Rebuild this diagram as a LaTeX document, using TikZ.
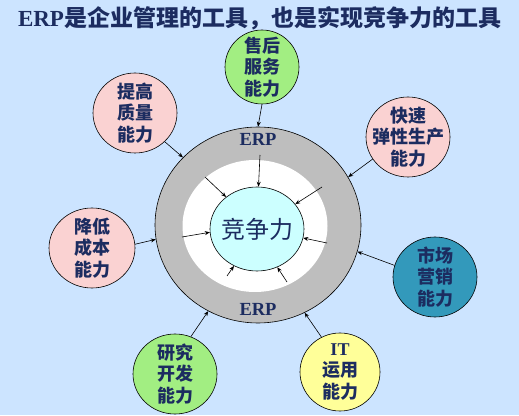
\documentclass[tikz,border=0pt]{standalone}
\usepackage{fontspec}
\setmainfont{Liberation Serif}
\newfontfamily\cjk{Noto Sans CJK SC}
\usetikzlibrary{arrows.meta,shapes.geometric}
\definecolor{bgcol}{RGB}{204,228,255}
\definecolor{navycol}{RGB}{28,44,96}
\definecolor{pinkcol}{RGB}{250,210,210}
\definecolor{greencol}{RGB}{162,238,130}
\definecolor{tealcol}{RGB}{51,153,187}
\definecolor{yellowcol}{RGB}{255,255,153}
\definecolor{ringcol}{RGB}{190,190,190}
\definecolor{corecol}{RGB}{204,255,255}

\begin{document}
\begin{tikzpicture}[x=1pt,y=1pt,
   skill/.style={ellipse,draw=black,line width=0.6pt,inner sep=0pt},
   skilltxt/.style={align=center,inner sep=0pt,text=navycol,
      font=\cjk\bfseries\fontsize{18}{21.5}\selectfont},
   erp/.style={text=navycol,font=\bfseries\fontsize{18.5}{18.5}\selectfont},
   arr/.style={-{Stealth[length=5pt,width=4pt]},line width=0.6pt}]
  % ---------- background and title ----------
  \fill[bgcol] (0,0) rectangle (519,415);
  \useasboundingbox (0,0) rectangle (519,415);
  \node[text=navycol,font=\fontsize{23}{23}\selectfont] (title) at (259.5,397)
    {\textbf{ERP}{\cjk\bfseries 是企业管理的工具，也是实现竞争力的工具}};
  % ---------- central rings ----------
  \node[skill,fill=ringcol,minimum width=206,minimum height=196] (ring) at (258,190) {};
  \node[skill,draw=none,fill=white,minimum width=145,minimum height=132] (white) at (255,189) {};
  \node[skill,fill=corecol,minimum width=94,minimum height=84] (core) at (257,186) {};
  \node[text=navycol,font=\cjk\fontsize{24}{24}\selectfont] (core-t) at (257,186) {竞争力};
  \node[erp] (erp-top) at (258,276) {ERP};
  \node[erp] (erp-bot) at (258,106) {ERP};
  % ---------- surrounding abilities ----------
  \node[skill,fill=greencol,minimum width=74,minimum height=74] (shouhou) at (262,348) {};
  \node[skilltxt] (shouhou-t) at (shouhou) {售后\\服务\\能力};
  \node[skill,fill=pinkcol,minimum width=84,minimum height=80] (tigao) at (135,302) {};
  \node[skilltxt] (tigao-t) at (tigao) {提高\\质量\\能力};
  \node[skill,fill=pinkcol,minimum width=84,minimum height=80] (kuaisu) at (408,278) {};
  \node[skilltxt] (kuaisu-t) at (kuaisu) {快速\\弹性生产\\能力};
  \node[skill,fill=pinkcol,minimum width=86,minimum height=80] (jiangdi) at (92,167) {};
  \node[skilltxt] (jiangdi-t) at (jiangdi) {降低\\成本\\能力};
  \node[skill,fill=tealcol,minimum width=84,minimum height=80] (shichang) at (435,138) {};
  \node[skilltxt] (shichang-t) at (shichang) {市场\\营销\\能力};
  \node[skill,fill=greencol,minimum width=84,minimum height=80] (yanjiu) at (175,41) {};
  \node[skilltxt] (yanjiu-t) at (yanjiu) {研究\\开发\\能力};
  \node[skill,fill=yellowcol,minimum width=80,minimum height=78] (it) at (340,43) {};
  \node[skilltxt] (it-t) at (it) {{\rmfamily IT}\\运用\\能力};
  % ---------- arrows onto the ERP ring ----------
  \draw[arr] (shouhou.270) -- (ring.90);
  \draw[arr] (tigao.316) -- (ring.138);
  \draw[arr] (kuaisu.212) -- (ring.28);
  \draw[arr] (jiangdi.5) -- (ring.188);
  \draw[arr] (shichang.164) -- (ring.345);
  \draw[arr] (yanjiu.67) -- (ring.240);
  \draw[arr] (it.118) -- (ring.298);
  % ---------- arrows onto the core ----------
  \coordinate (s1) at (260,260);
  \coordinate (s2) at (205,238);
  \coordinate (s3) at (322,228);
  \coordinate (s4) at (182,178);
  \coordinate (s5) at (327,172);
  \coordinate (s6) at (227,139);
  \coordinate (s7) at (287,133);
  \draw[arr] (s1) -- (core.88);
  \draw[arr] (s2) -- (core.134);
  \draw[arr] (s3) -- (core.33);
  \draw[arr] (s4) -- (core.184);
  \draw[arr] (s5) -- (core.349);
  \draw[arr] (s6) -- (core.238);
  \draw[arr] (s7) -- (core.298);
\end{tikzpicture}
\end{document}
